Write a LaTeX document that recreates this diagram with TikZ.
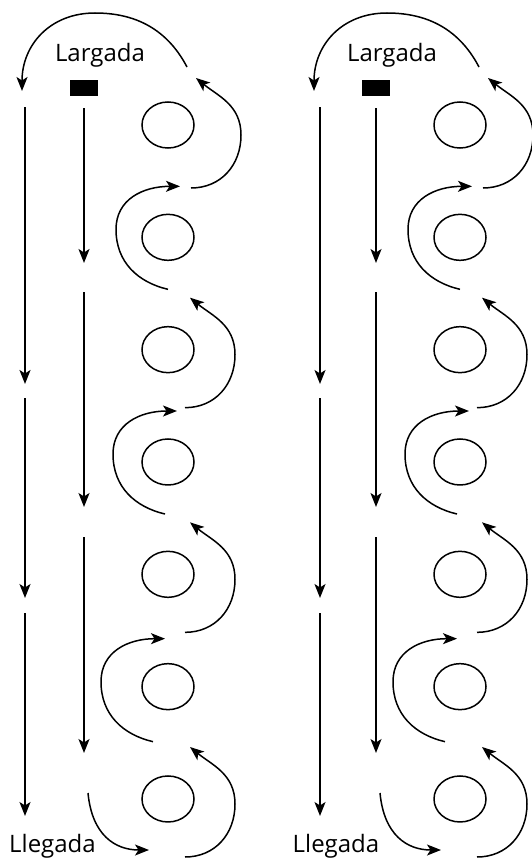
\documentclass[tikz,border=0pt]{standalone}
\usepackage{fontspec}
\setmainfont{Open Sans}
\usetikzlibrary{arrows.meta}
\tikzset{
  ln/.style={line width=1.5pt, black},
  arr/.style={ln, -{Stealth[length=14pt,width=11pt,inset=3.5pt]}},
  lbl/.style={font=\fontsize{24}{28}\selectfont, inner sep=0pt, anchor=base},
  blk/.style={fill=black, draw=none, minimum width=28pt, minimum height=16pt, inner sep=0pt},
}
% right-hand arc: #1 = ellipse centre y, #2 = x shift, #3 = y shift
\newcommand\rarc[3]{%
  \draw[arr] ({185+#2},{#1+#3+58}) .. controls ({215+#2},{#1+#3+58}) and ({235+#2},{#1+#3+35}) ..
    ({235+#2},{#1+#3+5}) .. controls ({235+#2},{#1+#3-25}) and ({212+#2},{#1+#3-34}) ..
    ({190+#2},{#1+#3-52});}
% left-hand arc
\newcommand\larc[3]{%
  \draw[arr] ({168+#2},{#1+#3+52}) .. controls ({138+#2},{#1+#3+45}) and ({116+#2},{#1+#3+25}) ..
    ({116+#2},{#1+#3-8}) .. controls ({116+#2},{#1+#3-38}) and ({143+#2},{#1+#3-51}) ..
    ({180+#2},{#1+#3-51});}
\begin{document}
\begin{tikzpicture}[x=1pt, y=-1pt]
\useasboundingbox (0,0) rectangle (532,859);
\foreach \ox/\cx/\lx/\p in {0/25/52.5/L, 292/28/44/R} {
  \begin{scope}[xshift=\ox pt]
    \node[lbl] (larg\p) at (100,62) {Largada};
    \node[lbl] (lleg\p) at (\lx,852) {Llegada};
    \node[blk] (start\p) at (84,88) {};
    % ellipses
    \foreach \k in {0,...,6} {
      \draw[ln] (168,{125+112.33*\k}) ellipse [x radius=26, y radius=23];
    }
    % long columns
    \draw[arr] (\cx,107) -- (\cx,384);
    \draw[arr] (\cx,398) -- (\cx,598);
    \draw[arr] (\cx,613) -- (\cx,816);
    % short columns
    \draw[arr] (84,108) -- (84,263);
    \draw[arr] (84,292) -- (84,507);
    \draw[arr] (84,537) -- (84,753);
    % top arc
    \draw[arr] (187,67) .. controls (165,25) and (130,13) .. (95,13)
      .. controls (50,13) and (22,45) .. (22,91);
    % serpentine arcs
    \rarc{125}{6}{5}
    \larc{237.33}{0}{0}
    \rarc{349.67}{0}{0}
    \larc{462}{-3}{0}
    \rarc{574.33}{0}{0}
    \larc{686.67}{-15}{3}
    \rarc{799}{0}{0}
    % bottom arc
    \draw[arr] (88,793) .. controls (92,835) and (115,850) .. (149,850);
  \end{scope}
}
\end{tikzpicture}
\end{document}
